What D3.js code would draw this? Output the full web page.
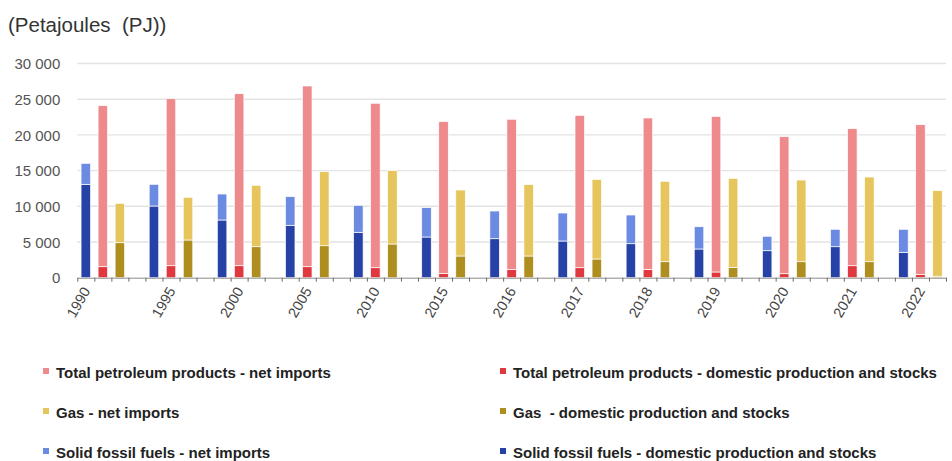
<!DOCTYPE html>
<html>
<head>
<meta charset="utf-8">
<script src="https://cdn.jsdelivr.net/npm/d3@7"></script>
<style>
  html, body { margin: 0; padding: 0; background: #fff; }
  svg { display: block; font-family: "Liberation Sans", Arial, sans-serif; }
</style>
</head>
<body>
<svg id="chart" width="952" height="461"></svg>
<script>
// Gross inland energy by fuel, split into domestic production/stocks and net imports (PJ)
const years = ['1990', '1995', '2000', '2005', '2010', '2015', '2016', '2017', '2018', '2019', '2020', '2021', '2022'];

const solidDomestic = [13080, 10040, 8080, 7340, 6360, 5700, 5460, 5140, 4760, 4020, 3780, 4340, 3560];
const solidImports  = [2940, 3040, 3640, 4010, 3780, 4110, 3880, 3920, 4020, 3120, 2020, 2440, 3220];

const petroleumDomestic = [1540, 1680, 1680, 1540, 1400, 610, 1170, 1400, 1170, 800, 560, 1680, 470];
const petroleumImports  = [22550, 23390, 24090, 25310, 23030, 21240, 21020, 21340, 21200, 21800, 19190, 19190, 20960];

const gasDomestic = [4900, 5280, 4340, 4480, 4720, 3040, 3040, 2620, 2240, 1450, 2240, 2240, 200];
const gasImports  = [5520, 5980, 8600, 10370, 10270, 9240, 9990, 11160, 11260, 12470, 11440, 11860, 11990];

const yTicks = [0, 5000, 10000, 15000, 20000, 25000, 30000];

const legendLabels = [
  'Total petroleum products - net imports',
  'Total petroleum products - domestic production and stocks',
  'Gas - net imports',
  'Gas  - domestic production and stocks',
  'Solid fossil fuels - net imports',
  'Solid fossil fuels - domestic production and stocks'
];

const colors = {
  solidDomestic: '#2642a7', solidImports: '#6b8be2',
  petroleumDomestic: '#e0383f', petroleumImports: '#ee898c',
  gasDomestic: '#ae8e1f', gasImports: '#e6c55c'
};
const legendColors = [colors.petroleumImports, colors.petroleumDomestic, colors.gasImports,
                      colors.gasDomestic, colors.solidImports, colors.solidDomestic];

// Each year occupies four slots: solid fuels, petroleum, gas, then a spacer (none after the last year)
const fuels = [
  { domestic: solidDomestic, imports: solidImports, c: [colors.solidDomestic, colors.solidImports] },
  { domestic: petroleumDomestic, imports: petroleumImports, c: [colors.petroleumDomestic, colors.petroleumImports] },
  { domestic: gasDomestic, imports: gasImports, c: [colors.gasDomestic, colors.gasImports] }
];
const slotsPerYear = 4;
const nSlots = years.length * slotsPerYear - 1;

const svg = d3.select('#chart');
const plot = { left: 77.3, right: 946, top: 63.5, bottom: 277.7 };

const x = d3.scaleBand().domain(d3.range(nSlots)).range([plot.left, plot.right]).padding(0);
const xEdge = d3.scaleLinear().domain([0, nSlots]).range([plot.left, plot.right]);
const y = d3.scaleLinear().domain([0, 30000]).range([plot.bottom, plot.top]);
const barW = x.bandwidth() * 0.56;

// unit caption
svg.append('text')
  .attr('x', 8).attr('y', 32)
  .attr('font-size', 20.5).attr('fill', '#333')
  .style('white-space', 'pre')
  .text('(Petajoules  (PJ))');

// horizontal grid
svg.append('g')
  .selectAll('line')
  .data(yTicks.filter(d => d > 0))
  .join('line')
  .attr('x1', plot.left).attr('x2', plot.right)
  .attr('y1', d => y(d)).attr('y2', d => y(d))
  .attr('stroke', '#e3e3e3').attr('stroke-width', 1.4);

// y axis labels
const yAxis = svg.append('g')
  .attr('transform', `translate(${plot.left - 14},0)`)
  .call(d3.axisLeft(y).tickValues(yTicks).tickSize(0)
    .tickFormat(d => d3.format(',')(d).replace(/,/g, ' ')));
yAxis.select('.domain').remove();
yAxis.selectAll('text')
  .attr('font-size', 15).attr('fill', '#555')
  .attr('font-family', '"Liberation Sans", Arial, sans-serif')
  .attr('dy', '0.34em');

// stacked bars
const stack = d3.stack().keys(['domestic', 'imports']);
fuels.forEach((f, fi) => {
  const rows = years.map((yr, i) => ({ i, domestic: f.domestic[i], imports: f.imports[i] }));
  const series = stack(rows);
  svg.append('g')
    .selectAll('g')
    .data(series)
    .join('g')
    .attr('fill', (s, si) => f.c[si])
    .selectAll('rect')
    .data(s => s)
    .join('rect')
    .attr('x', d => x(d.data.i * slotsPerYear + fi) + (x.bandwidth() - barW) / 2)
    .attr('width', barW)
    .attr('y', d => y(d[1]))
    .attr('height', d => y(d[0]) - y(d[1]))
    .attr('stroke', '#fff').attr('stroke-width', 0.7);
});

// x axis with a tick at every slot boundary
const xAxis = svg.append('g')
  .attr('transform', `translate(0,${plot.bottom})`)
  .call(d3.axisBottom(xEdge).tickValues(d3.range(0, nSlots + 1)).tickSize(4).tickSizeOuter(0).tickFormat(''));
xAxis.select('.domain').attr('stroke', '#8a8a8a');
xAxis.selectAll('.tick line').attr('stroke', '#6a6a6a');

// year labels; the first one sits on its first bar to keep clear of the axis corner
svg.append('g')
  .selectAll('text')
  .data(years)
  .join('text')
  .attr('transform', (d, i) => {
    const slot = i * slotsPerYear + (i === 0 ? 0 : 1);
    const cx = x(slot) + x.bandwidth() / 2 + 5;
    return `translate(${cx},${plot.bottom + 13}) rotate(-60)`;
  })
  .attr('text-anchor', 'end')
  .attr('font-size', 14.5).attr('fill', '#444')
  .text(d => d);

// legend, two columns
const legend = svg.append('g');
const cols = [{ mx: 43, tx: 56 }, { mx: 500, tx: 513 }];
const rowsY = [378, 418, 458];
legendLabels.forEach((label, k) => {
  const col = cols[k % 2], ry = rowsY[Math.floor(k / 2)];
  legend.append('rect')
    .attr('x', col.mx).attr('y', ry - 10)
    .attr('width', 6).attr('height', 6)
    .attr('fill', legendColors[k]);
  legend.append('text')
    .attr('x', col.tx).attr('y', ry)
    .attr('font-size', 15).attr('font-weight', 'bold').attr('fill', '#222')
    .style('white-space', 'pre')
    .text(label);
});
</script>
</body>
</html>
